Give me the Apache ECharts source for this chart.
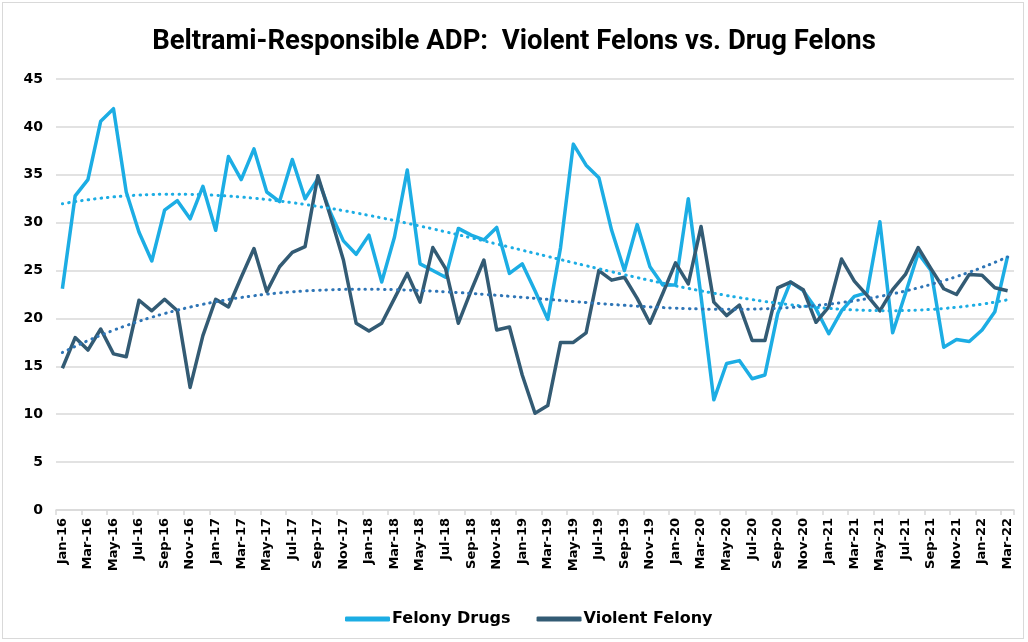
<!DOCTYPE html>
<html><head><meta charset="utf-8">
<script src="https://cdn.jsdelivr.net/npm/echarts@6/dist/echarts.min.js"></script>
<style>
html,body{margin:0;padding:0;background:#fff}
#frame{position:absolute;left:2px;top:2px;width:1022px;height:637px;border:1px solid #d9d9d9;box-sizing:border-box}
#chart{position:absolute;left:0;top:0;width:1028px;height:642px}
</style>
</head><body><div id="frame"></div><div id="chart"></div>
<script>
const categories = [
 'Jan-16','Feb-16','Mar-16','Apr-16','May-16','Jun-16','Jul-16','Aug-16','Sep-16','Oct-16','Nov-16','Dec-16',
 'Jan-17','Feb-17','Mar-17','Apr-17','May-17','Jun-17','Jul-17','Aug-17','Sep-17','Oct-17','Nov-17','Dec-17',
 'Jan-18','Feb-18','Mar-18','Apr-18','May-18','Jun-18','Jul-18','Aug-18','Sep-18','Oct-18','Nov-18','Dec-18',
 'Jan-19','Feb-19','Mar-19','Apr-19','May-19','Jun-19','Jul-19','Aug-19','Sep-19','Oct-19','Nov-19','Dec-19',
 'Jan-20','Feb-20','Mar-20','Apr-20','May-20','Jun-20','Jul-20','Aug-20','Sep-20','Oct-20','Nov-20','Dec-20',
 'Jan-21','Feb-21','Mar-21','Apr-21','May-21','Jun-21','Jul-21','Aug-21','Sep-21','Oct-21','Nov-21','Dec-21',
 'Jan-22','Feb-22','Mar-22'
];
const felonyDrugs = [
 23.1, 32.8, 34.5, 40.6, 41.9, 33.2, 29.0, 26.0, 31.3, 32.3,
 30.4, 33.8, 29.2, 36.9, 34.5, 37.7, 33.2, 32.2, 36.6, 32.5,
 34.6, 31.0, 28.1, 26.7, 28.7, 23.8, 28.5, 35.5, 25.7, 25.0,
 24.3, 29.4, 28.7, 28.2, 29.5, 24.7, 25.7, 22.9, 19.9, 27.4,
 38.2, 36.0, 34.7, 29.2, 25.0, 29.8, 25.4, 23.5, 23.5, 32.5,
 22.3, 11.5, 15.3, 15.6, 13.7, 14.1, 20.5, 23.8, 22.9, 21.0,
 18.4, 20.8, 22.3, 22.7, 30.1, 18.5, 22.6, 26.8, 25.0, 17.0,
 17.8, 17.6, 18.8, 20.7, 26.5
];
const violentFelony = [
 14.8, 18.0, 16.7, 18.9, 16.3, 16.0, 21.9, 20.8, 22.0, 20.8,
 12.8, 18.2, 22.0, 21.2, 24.3, 27.3, 22.8, 25.4, 26.9, 27.5,
 34.9, 30.6, 26.1, 19.5, 18.7, 19.5, 22.1, 24.7, 21.7, 27.4,
 25.2, 19.5, 22.9, 26.1, 18.8, 19.1, 14.1, 10.1, 10.9, 17.5,
 17.5, 18.5, 25.0, 24.0, 24.3, 22.1, 19.5, 22.6, 25.8, 23.6,
 29.6, 21.7, 20.3, 21.4, 17.7, 17.7, 23.2, 23.8, 23.0, 19.6,
 21.2, 26.2, 23.9, 22.4, 20.8, 23.0, 24.6, 27.4, 25.2, 23.1,
 22.5, 24.6, 24.5, 23.2, 22.9
];
const yTicks = { min: 0, max: 45, interval: 5 };
const TREND_ORDER = 3;

// least-squares polynomial trendline (like Excel's polynomial trendline)
function polyTrend(ys, order) {
  const n = ys.length, m = order + 1;
  const A = Array.from({length: m}, () => new Array(m + 1).fill(0));
  for (let i = 0; i < n; i++) {
    const x = (i + 1) / n;
    const p = [];
    for (let k = 0; k < m; k++) p.push(Math.pow(x, k));
    for (let r = 0; r < m; r++) {
      for (let c = 0; c < m; c++) A[r][c] += p[r] * p[c];
      A[r][m] += p[r] * ys[i];
    }
  }
  for (let col = 0; col < m; col++) {
    let piv = col;
    for (let r = col + 1; r < m; r++) if (Math.abs(A[r][col]) > Math.abs(A[piv][col])) piv = r;
    [A[col], A[piv]] = [A[piv], A[col]];
    for (let r = 0; r < m; r++) {
      if (r === col) continue;
      const f = A[r][col] / A[col][col];
      for (let c = col; c <= m; c++) A[r][c] -= f * A[col][c];
    }
  }
  const coef = A.map((row, k) => row[m] / row[k]);
  return ys.map((_, i) => {
    const x = (i + 1) / n;
    let s = 0;
    for (let k = 0; k < m; k++) s += coef[k] * Math.pow(x, k);
    return +s.toFixed(3);
  });
}

const chart = echarts.init(document.getElementById('chart'), null, {renderer: 'canvas'});
const dot = [0.5, 6];
const lblFont = '"DejaVu Sans", sans-serif';
chart.setOption({
  animation: false,
  backgroundColor: 'transparent',
  title: {
    text: 'Beltrami-Responsible ADP:  Violent Felons vs. Drug Felons',
    left: 'center', top: 23,
    textStyle: {fontFamily: 'Roboto, sans-serif', fontWeight: 'bold', fontSize: 27.5, color: '#000'}
  },
  legend: {
    data: ['Felony Drugs', 'Violent Felony'],
    left: 340, top: 606,
    icon: 'roundRect', itemWidth: 45, itemHeight: 5, itemGap: 26,
    textStyle: {fontFamily: lblFont, fontWeight: 'bold', fontSize: 16, color: '#000', padding: [0, 0, 0, -3]}
  },
  grid: {left: 56, right: 14, top: 79, bottom: 132, containLabel: false},
  xAxis: {
    type: 'category', data: categories, boundaryGap: true,
    axisLine: {lineStyle: {color: '#d9d9d9', width: 1.5}},
    axisTick: {show: true, interval: 1, length: 5, lineStyle: {color: '#d9d9d9', width: 1.5}},
    axisLabel: {interval: 1, rotate: 90, margin: 8, fontFamily: lblFont, fontWeight: 'bold', fontSize: 13, color: '#000'},
    splitLine: {show: false}
  },
  yAxis: {
    type: 'value', min: yTicks.min, max: yTicks.max, interval: yTicks.interval,
    axisLine: {show: false}, axisTick: {show: false},
    axisLabel: {margin: 13, fontFamily: lblFont, fontWeight: 'bold', fontSize: 14, color: '#000'},
    splitLine: {lineStyle: {color: '#d9d9d9', width: 1.5}}
  },
  series: [
    {name: 'Felony Drugs', type: 'line', data: felonyDrugs, symbol: 'none', z: 3,
     lineStyle: {color: '#1CADE4', width: 3.5, join: 'round'}, itemStyle: {color: '#1CADE4'}},
    {name: 'Violent Felony', type: 'line', data: violentFelony, symbol: 'none', z: 3,
     lineStyle: {color: '#335B74', width: 3.5, join: 'round'}, itemStyle: {color: '#335B74'}},
    {name: 'Poly. (Felony Drugs)', type: 'line', data: polyTrend(felonyDrugs, TREND_ORDER), symbol: 'none', z: 4,
     smooth: true, lineStyle: {color: '#1CADE4', width: 3, type: dot, cap: 'round'}},
    {name: 'Poly. (Violent Felony)', type: 'line', data: polyTrend(violentFelony, TREND_ORDER), symbol: 'none', z: 4,
     smooth: true, lineStyle: {color: '#2E75B6', width: 3, type: dot, cap: 'round'}}
  ]
});
</script>
</body></html>
